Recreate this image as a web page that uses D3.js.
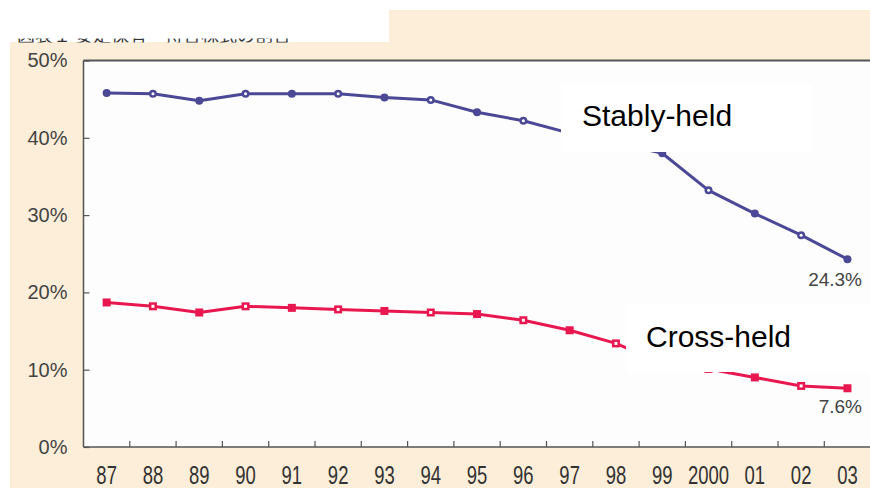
<!DOCTYPE html>
<html><head><meta charset="utf-8">
<script src="https://cdn.jsdelivr.net/npm/d3@7"></script>
<style>
html,body{margin:0;padding:0;background:#fff;}
svg{display:block;}
</style></head>
<body>
<script>
const categories = ["87","88","89","90","91","92","93","94","95","96","97","98","99","2000","01","02","03"];
const stablyHeld = [45.8,45.7,44.8,45.7,45.7,45.7,45.2,44.9,43.3,42.2,40.6,39.4,38.0,33.2,30.2,27.4,24.3];
const crossHeld  = [18.7,18.2,17.4,18.2,18.0,17.8,17.6,17.4,17.2,16.4,15.1,13.4,10.8,10.1,9.0,7.9,7.6];
const yTicks = [0,10,20,30,40,50];
const seriesNames = ["Stably-held","Cross-held"];
const endLabels = ["24.3%","7.6%"];
const titleText = "図表１ 安定保有・持合株式の割合";

(function(){
const W = 870, H = 491;
const svg = d3.select("body").append("svg").attr("width", W).attr("height", H);

svg.append("rect").attr("x",0).attr("y",0).attr("width",W).attr("height",H).attr("fill","#fff");
svg.append("path").attr("fill","#fdeed9")
  .attr("d","M10,42 L389,42 L389,10 L870,10 L870,488 L10,488 Z");

const defs = svg.append("defs");
defs.append("clipPath").attr("id","tclip").append("rect").attr("x",0).attr("y",38.5).attr("width",389).attr("height",4);
svg.append("text").attr("clip-path","url(#tclip)")
  .attr("x",17).attr("y",42)
  .attr("font-family","'Noto Sans CJK JP'").attr("font-size",18).attr("fill","#333")
  .text(titleText);

const pL = 83.5, pR = 870.6, pT = 60.5, pB = 447;
const x = d3.scaleBand().domain(categories).range([pL, pR]).padding(0);
const y = d3.scaleLinear().domain([0,50]).range([pB, pT]);

svg.append("rect").attr("x",pL).attr("y",pT).attr("width",W-pL).attr("height",pB-pT).attr("fill","#fdfdfd");

svg.append("line").attr("x1",pL).attr("x2",W).attr("y1",pT).attr("y2",pT).attr("stroke","#555").attr("stroke-width",2);
svg.append("line").attr("x1",pL).attr("x2",pL).attr("y1",pT).attr("y2",pB).attr("stroke","#555").attr("stroke-width",1.5);
svg.append("line").attr("x1",pL).attr("x2",W).attr("y1",pB).attr("y2",pB).attr("stroke","#555").attr("stroke-width",1.5);

const yAxis = svg.append("g").attr("transform",`translate(${pL},0)`)
  .call(d3.axisLeft(y).tickValues(yTicks).tickSize(-6).tickPadding(16).tickFormat(d => d + "%"));
yAxis.select(".domain").remove();
yAxis.selectAll("line").attr("stroke","#555").attr("stroke-width",1.2);
yAxis.selectAll("text").attr("font-family","'Liberation Sans', Arial, sans-serif").attr("font-size",20).attr("fill","#444");

const xAxis = svg.append("g").attr("transform",`translate(0,${pB})`)
  .call(d3.axisBottom(x).tickSize(0).tickPadding(19));
xAxis.select(".domain").remove();
xAxis.selectAll("text").attr("font-family","'Liberation Sans', Arial, sans-serif")
  .attr("font-size",25).attr("fill","#333").attr("transform","scale(0.74,1)");

svg.append("g").selectAll("line").data(categories.slice(1)).join("line")
  .attr("x1", d => x(d)).attr("x2", d => x(d))
  .attr("y1", pB).attr("y2", pB-6)
  .attr("stroke","#555").attr("stroke-width",1.2);

const line = d3.line().x((d,i) => x(categories[i]) + x.bandwidth()/2).y(d => y(d));

function drawSeries(vals, color, shape) {
  svg.append("path").datum(vals).attr("d", line).attr("fill","none")
    .attr("stroke", color).attr("stroke-width",3).attr("stroke-linejoin","round");
  const g = svg.append("g");
  vals.forEach((v,i) => {
    const cx = x(categories[i]) + x.bandwidth()/2, cy = y(v);
    if (shape === "square") {
      g.append("rect").attr("x",cx-4).attr("y",cy-4).attr("width",8).attr("height",8).attr("fill",color);
      if (i % 2 === 1) g.append("rect").attr("x",cx-1.5).attr("y",cy-1.5).attr("width",3).attr("height",3).attr("fill","#fff");
    } else {
      g.append("circle").attr("cx",cx).attr("cy",cy).attr("r",4).attr("fill",color);
      if (i % 2 === 1) g.append("circle").attr("cx",cx).attr("cy",cy).attr("r",1.5).attr("fill","#fff");
    }
  });
}
drawSeries(stablyHeld, "#4b4896", "circle");
drawSeries(crossHeld, "#e8174f", "square");

svg.append("rect").attr("x",561).attr("y",84).attr("width",251).attr("height",68).attr("fill","#fff");
svg.append("rect").attr("x",626).attr("y",303).attr("width",W-626).attr("height",69).attr("fill","#fff");
svg.append("text").attr("x",582).attr("y",126).attr("font-family","'Liberation Sans', Arial, sans-serif")
  .attr("font-size",30).attr("fill","#000").text(seriesNames[0]);
svg.append("text").attr("x",646).attr("y",347).attr("font-family","'Liberation Sans', Arial, sans-serif")
  .attr("font-size",30).attr("fill","#000").text(seriesNames[1]);

svg.append("text").attr("x",862).attr("y",y(stablyHeld[stablyHeld.length-1]) + 27).attr("text-anchor","end")
  .attr("font-family","'Liberation Sans', Arial, sans-serif").attr("font-size",19).attr("fill","#444").text(endLabels[0]);
svg.append("text").attr("x",862).attr("y",y(crossHeld[crossHeld.length-1]) + 25).attr("text-anchor","end")
  .attr("font-family","'Liberation Sans', Arial, sans-serif").attr("font-size",19).attr("fill","#444").text(endLabels[1]);
})();
</script>
</body></html>
